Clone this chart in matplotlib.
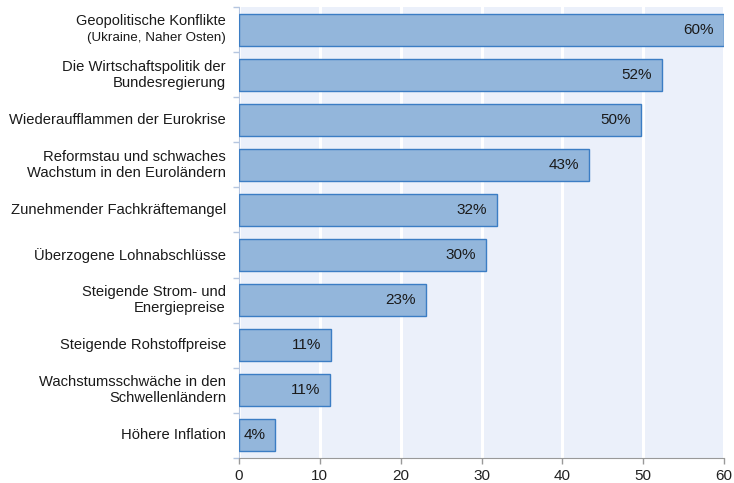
import numpy as np
import matplotlib.pyplot as plt
from matplotlib.transforms import blended_transform_factory, offset_copy

plt.rcParams['font.family'] = ['Liberation Sans', 'DejaVu Sans']

# data, top to bottom
categories = [
    "Geopolitische Konflikte",
    "Die Wirtschaftspolitik der\nBundesregierung",
    "Wiederaufflammen der Eurokrise",
    "Reformstau und schwaches\nWachstum in den Euroländern",
    "Zunehmender Fachkräftemangel",
    "Überzogene Lohnabschlüsse",
    "Steigende Strom- und\nEnergiepreise",
    "Steigende Rohstoffpreise",
    "Wachstumsschwäche in den\nSchwellenländern",
    "Höhere Inflation",
]
subtitles = ["(Ukraine, Naher Osten)", "", "", "", "", "", "", "", "", ""]
values = [60.0, 52.3, 49.7, 43.3, 31.9, 30.6, 23.1, 11.4, 11.3, 4.5]
labels = ["60%", "52%", "50%", "43%", "32%", "30%", "23%", "11%", "11%", "4%"]
xticks = [0, 10, 20, 30, 40, 50, 60]

fig = plt.figure(figsize=(7.34, 4.83), dpi=100)
ax = fig.add_axes([0.3256, 0.0518, 0.6608, 0.9337])
ax.set_facecolor('#ebf0fa')

y = np.arange(len(categories))
ax.barh(y, values, height=0.71, color='#93b6db', edgecolor='#3b7dc4',
        linewidth=1.0, zorder=3)

ax.set_xlim(0, 60)
ax.set_ylim(len(categories) - 0.5, -0.5)
ax.set_xticks(xticks)
ax.set_xticklabels([str(t) for t in xticks], fontsize=11, color='#222222')
ax.grid(axis='x', color='white', linewidth=2.2, zorder=1)
ax.set_axisbelow(True)

# y ticks at category boundaries, labels drawn by hand
ax.set_yticks(np.arange(len(categories) + 1) - 0.5)
ax.set_yticklabels([])
ax.tick_params(axis='y', length=4, color='#b5c6e0', width=1)
ax.tick_params(axis='x', length=4, color='#999999', width=1, pad=4)

for side in ['top', 'right']:
    ax.spines[side].set_visible(False)
ax.spines['left'].set_color('#b5c6e0')
ax.spines['bottom'].set_color('#999999')

trans = blended_transform_factory(ax.transAxes, ax.transData)
trans = offset_copy(trans, fig=fig, x=-13, y=0, units='dots')
for i, (cat, sub) in enumerate(zip(categories, subtitles)):
    if sub:
        ax.text(0, i - 0.18, cat, transform=trans, ha='right', va='center',
                fontsize=10.5, color='#1a1a1a')
        ax.text(0, i + 0.18, sub, transform=trans, ha='right', va='center',
                fontsize=9.6, color='#1a1a1a')
    else:
        ax.text(0, i, cat, transform=trans, ha='right', va='center',
                fontsize=10.6, color='#1a1a1a', linespacing=1.2)

# value labels inside the bars
vtrans = offset_copy(ax.transData, fig=fig, x=-10, y=0, units='dots')
for i, (v, lab) in enumerate(zip(values, labels)):
    ax.text(v, i, lab, transform=vtrans, ha='right', va='center',
            fontsize=11, color='#1a1a1a', zorder=4)

fig.savefig('out.png', dpi=100)
